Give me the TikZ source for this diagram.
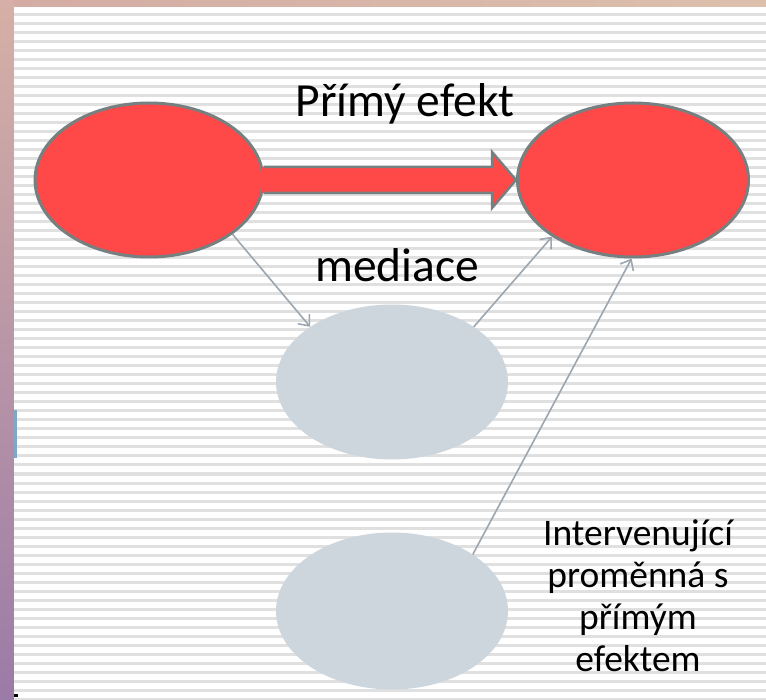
\documentclass[tikz,border=0pt]{standalone}
\usepackage{fontspec}
\setmainfont{Carlito}
\usetikzlibrary{shapes.geometric,arrows.meta,calc}
\definecolor{redfill}{HTML}{FF4848}
\definecolor{edgegray}{HTML}{778080}
\definecolor{bluegray}{HTML}{CDD5DD}
\definecolor{arrowgray}{HTML}{9CA6B0}
\definecolor{stripe}{HTML}{E0E0E0}
\definecolor{bordertop}{HTML}{D6B0A6}
\definecolor{borderbot}{HTML}{9B7BA7}
\definecolor{topleft}{HTML}{D4ACA4}
\definecolor{topright}{HTML}{DCC0AC}
\definecolor{barblue}{HTML}{7FA8C8}
\begin{document}
\begin{tikzpicture}[x=1pt,y=-1pt,
  redell/.style={ellipse, fill=redfill, draw=edgegray, line width=3pt, minimum width=228pt, minimum height=154pt, inner sep=0pt},
  grayell/.style={ellipse, fill=bluegray, minimum width=232pt, minimum height=155pt, inner sep=0pt},
  thin arrow/.style={draw=arrowgray, line width=1.6pt, -{Straight Barb[length=9pt,width=15pt]}},
  bigtext/.style={font=\fontsize{47.5}{56}\selectfont, inner sep=0pt},
  smalltext/.style={font=\fontsize{37.5}{42}\selectfont, align=center, inner sep=0pt}]
\useasboundingbox (0,0) rectangle (766,700);
% frame
\shade[top color=bordertop, bottom color=borderbot] (0,0) rectangle (766,700);
\shade[left color=topleft, right color=topright] (14,0) rectangle (766,7);
\fill[white] (14,7) rectangle (766,700);
\foreach \k in {0,...,76} \draw[stripe, line width=3pt] (14,{15+9*\k}) -- (766,{15+9*\k});
\fill[barblue] (14,410) rectangle (17,458);
\fill[black] (14,694) rectangle (18,697);
% nodes
\node[redell] (L) at (149,180) {};
\node[redell, minimum width=231pt] (R) at (633,180) {};
\node[grayell] (G1) at (392,382) {};
\node[grayell, minimum height=157pt] (G2) at (392,611) {};
% thick arrow
\coordinate (A0) at ($(L.east)+(-3,0)$);
\coordinate (T) at (R.west);
\fill[redfill] ($(A0)+(0,-13)$) -- (492,167) -- (492,152) -- (T) -- (492,208) -- (492,193) -- ($(A0)+(0,13)$) -- cycle;
\draw[edgegray, line width=2.5pt, line join=miter] ($(A0)+(2,-13)$) -- (492,167) -- (492,152) -- (T) -- (492,208) -- (492,193) -- ($(A0)+(2,13)$);
% thin arrows
\draw[thin arrow] (L.-33) -- (G1.146);
\draw[thin arrow] (G1.34) -- (R.-145);
\draw[thin arrow] (G2.35) -- (R.-91);
% texts
\node[bigtext, anchor=base] (t1) at (405,117) {Přímý efekt};
\node[bigtext, anchor=base] (t2) at (397,282) {mediace};
\node[smalltext] (t3) at (638,596) {Intervenující\\proměnná s\\přímým\\efektem};
\end{tikzpicture}
\end{document}
